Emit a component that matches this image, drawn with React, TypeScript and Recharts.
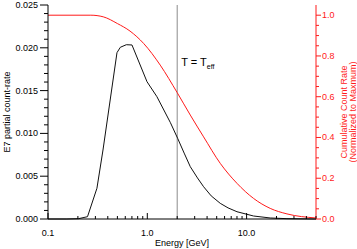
import { LineChart, Line, XAxis, YAxis, ReferenceLine } from "recharts";

// E7 partial count-rate vs energy, plus cumulative count rate (normalized)

const blackEnergy = [0.1, 0.155, 0.203, 0.25, 0.311, 0.358, 0.495, 0.535, 0.615, 0.701, 0.993, 1.25, 1.71, 2.02, 2.35, 2.71, 3.2, 3.69, 4.4, 5.43, 6.5, 8.0, 11.75, 17.3, 25.5, 50];
const blackRate = [0, 0, 0.00004, 0.00027, 0.00359, 0.00806, 0.01943, 0.02006, 0.02036, 0.02033, 0.01604, 0.01429, 0.01125, 0.00943, 0.0077, 0.00611, 0.0048, 0.00377, 0.0027, 0.00183, 0.0013, 0.00085, 0.00035, 0.00012, 0.00004, 0];

const redEnergy = [0.1, 0.27, 0.36, 0.5, 0.67, 0.92, 1.35, 2.0, 2.71, 3.69, 5.43, 8.0, 11.75, 17.3, 25.5, 50];
const redCumulative = [1.0, 1.0, 0.992, 0.959, 0.922, 0.861, 0.755, 0.62, 0.51, 0.403, 0.273, 0.175, 0.101, 0.052, 0.025, 0.005];

const xTicks = [0.1, 0.2, 0.3, 0.4, 0.5, 0.6, 0.7, 0.8, 0.9, 1, 2, 3, 4, 5, 6, 7, 8, 9, 10, 20, 30, 40, 50];
const xMajorLabels: Record<number, string> = { 0.1: "0.1", 1: "1.0", 10: "10.0" };

const leftTicks = [0, 0.001, 0.002, 0.003, 0.004, 0.005, 0.006, 0.007, 0.008, 0.009, 0.01, 0.011, 0.012, 0.013, 0.014, 0.015, 0.016, 0.017, 0.018, 0.019, 0.02, 0.021, 0.022, 0.023, 0.024, 0.025];
const rightTicks = [0, 0.05, 0.1, 0.15, 0.2, 0.25, 0.3, 0.35, 0.4, 0.45, 0.5, 0.55, 0.6, 0.65, 0.7, 0.75, 0.8, 0.85, 0.9, 0.95, 1.0];

const blackData = blackEnergy.map((e, i) => ({ e, v: blackRate[i] }));
const redData = redEnergy.map((e, i) => ({ e, v: redCumulative[i] }));

const RED = "#ff1a1a";
const FONT = "'Liberation Sans', Arial, sans-serif";

function BottomTick({ x, y, payload }: any) {
  const label = xMajorLabels[payload.value];
  const len = label ? 6 : 3;
  return (
    <g>
      <line x1={x} x2={x} y1={y} y2={y - len} stroke="#000" />
      {label && (
        <text x={x} y={y + 17} textAnchor="middle" fontSize={9} fill="#000">
          {label}
        </text>
      )}
    </g>
  );
}

function TopTick({ x, y, payload }: any) {
  const len = xMajorLabels[payload.value] ? 6 : 3;
  return <line x1={x} x2={x} y1={y} y2={y + len} stroke="#000" />;
}

function LeftTick({ x, y, payload }: any) {
  const major = Math.round(payload.value * 1000) % 5 === 0;
  return (
    <g>
      <line x1={x - (major ? 8 : 4)} x2={x} y1={y} y2={y} stroke="#000" />
      {major && (
        <text x={x - 10} y={y + 3} textAnchor="end" fontSize={9} fill="#000">
          {payload.value.toFixed(3)}
        </text>
      )}
    </g>
  );
}

function RightTick({ x, y, payload }: any) {
  const major = Math.round(payload.value * 100) % 20 === 0;
  return (
    <g>
      <line x1={x} x2={x + (major ? 5 : 3)} y1={y} y2={y} stroke={RED} />
      {major && (
        <text x={x + 6} y={y + 3} textAnchor="start" fontSize={9} fill={RED}>
          {payload.value.toFixed(1)}
        </text>
      )}
    </g>
  );
}

function LeftTitle({ viewBox }: any) {
  const cx = viewBox.x + 7;
  const cy = viewBox.y + viewBox.height / 2;
  return (
    <text x={cx} y={cy} transform={`rotate(-90 ${cx} ${cy})`} textAnchor="middle" dominantBaseline="central" fontSize={9} fill="#000">
      E7 partial count-rate
    </text>
  );
}

function RightTitle({ viewBox }: any) {
  const cy = viewBox.y + viewBox.height / 2;
  const x1 = viewBox.x + 28;
  const x2 = viewBox.x + 37;
  return (
    <g fontSize={9} fill={RED}>
      <text x={x1} y={cy} transform={`rotate(-90 ${x1} ${cy})`} textAnchor="middle" dominantBaseline="central">
        Cumulative Count Rate
      </text>
      <text x={x2} y={cy} transform={`rotate(-90 ${x2} ${cy})`} textAnchor="middle" dominantBaseline="central">
        (Normalized to Maxmum)
      </text>
    </g>
  );
}

function TeffLabel({ viewBox }: any) {
  return (
    <text x={viewBox.x + 4} y={viewBox.y + 61} fontSize={11} fill="#000">
      T = T
      <tspan fontSize={7} dy={3}>
        eff
      </tspan>
    </text>
  );
}

export default function App() {
  return (
    <div style={{ position: "absolute", left: 0, top: 0, background: "#fff" }}>
      <LineChart width={357} height={249} margin={{ top: 5, right: 0, bottom: 0, left: 0 }} style={{ fontFamily: FONT }}>
        <XAxis
          dataKey="e"
          type="number"
          scale="log"
          domain={[0.1, 50]}
          allowDataOverflow
          ticks={xTicks}
          interval={0}
          height={30}
          tickSize={0}
          tickMargin={0}
          tickLine={false}
          axisLine={{ stroke: "#000" }}
          tick={<BottomTick />}
          label={{ value: "Energy [GeV]", position: "insideBottom", offset: 3, fontSize: 9, fill: "#000" }}
        />
        <XAxis
          xAxisId="top"
          orientation="top"
          type="number"
          scale="log"
          domain={[0.1, 50]}
          allowDataOverflow
          ticks={xTicks}
          interval={0}
          height={0}
          tickSize={0}
          tickMargin={0}
          tickLine={false}
          axisLine={{ stroke: "#000" }}
          tick={<TopTick />}
        />
        <YAxis
          yAxisId="left"
          type="number"
          domain={[0, 0.025]}
          ticks={leftTicks}
          interval={0}
          width={48}
          tickSize={0}
          tickMargin={0}
          tickLine={false}
          axisLine={{ stroke: "#000" }}
          tick={<LeftTick />}
          label={<LeftTitle />}
        />
        <YAxis
          yAxisId="right"
          orientation="right"
          type="number"
          domain={[0, 1.05]}
          ticks={rightTicks}
          interval={0}
          width={41}
          tickSize={0}
          tickMargin={0}
          tickLine={false}
          axisLine={{ stroke: RED }}
          tick={<RightTick />}
          label={<RightTitle />}
        />
        <ReferenceLine x={2} yAxisId="left" stroke="#8c8c8c" strokeWidth={1} label={<TeffLabel />} />
        <Line
          yAxisId="left"
          data={blackData}
          dataKey="v"
          type="linear"
          stroke="#111"
          strokeWidth={1}
          dot={false}
          isAnimationActive={false}
        />
        <Line
          yAxisId="right"
          data={redData}
          dataKey="v"
          type="monotone"
          stroke={RED}
          strokeWidth={1}
          dot={false}
          isAnimationActive={false}
        />
      </LineChart>
    </div>
  );
}
